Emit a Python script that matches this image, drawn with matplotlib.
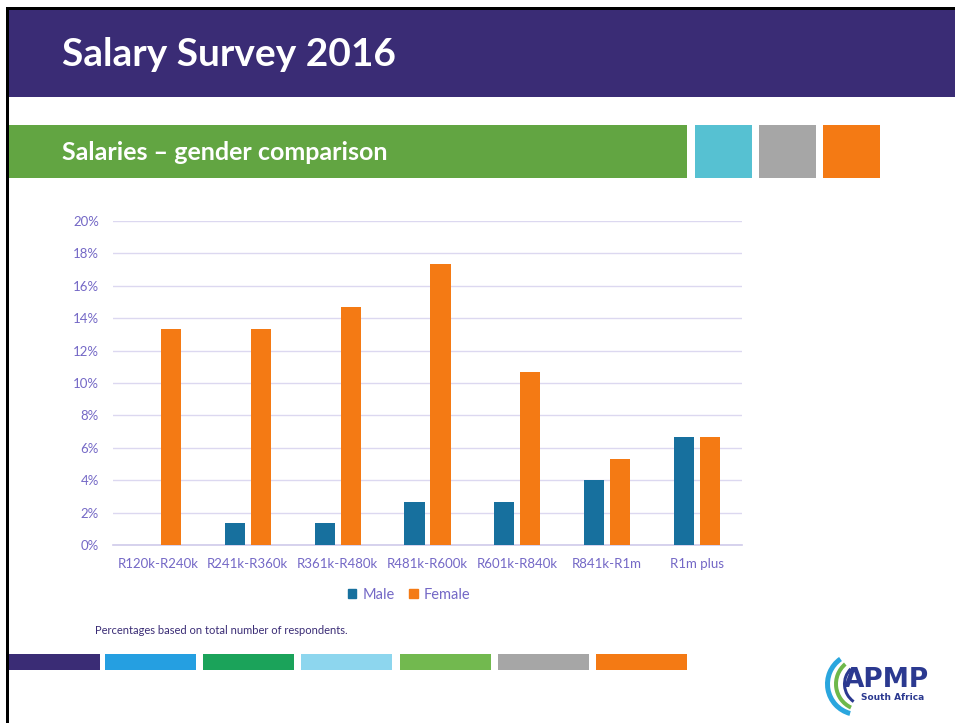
import matplotlib
matplotlib.use("Agg")
import matplotlib.pyplot as plt
import numpy as np
from matplotlib.patches import Rectangle, Wedge, Patch

W, H = 955, 723

categories = ["R120k-R240k", "R241k-R360k", "R361k-R480k", "R481k-R600k",
              "R601k-R840k", "R841k-R1m", "R1m plus"]
male = [0.0, 1.333, 1.333, 2.667, 2.667, 4.0, 6.667]
female = [13.333, 13.333, 14.667, 17.333, 10.667, 5.333, 6.667]
yticks = [0, 2, 4, 6, 8, 10, 12, 14, 16, 18, 20]
ytick_labels = [f"{v}%" for v in yticks]

title = "Salary Survey 2016"
subtitle = "Salaries \u2013 gender comparison"
footnote = "Percentages based on total number of respondents."

PURPLE = "#3A2C75"
GREEN = "#62A542"
MALE_C = "#17709E"
FEMALE_C = "#F47A14"
TICK_C = "#7468C6"
GRID_C = "#DCD8F0"
strip_colors = ["#3A2C75", "#259FE1", "#1BA35A", "#8DD6EE", "#72B94F", "#A6A6A6", "#F47A14"]

plt.rcParams['font.family'] = ['Lato', 'DejaVu Sans']

fig = plt.figure(figsize=(W / 100, H / 100), dpi=100)
fig.patch.set_facecolor("white")


def rect_px(x0, y0, x1, y1):
    return [x0 / W, 1 - y1 / H, (x1 - x0) / W, (y1 - y0) / H]


# Decoration axes (pixel coordinates)
bg = fig.add_axes([0, 0, 1, 1])
bg.set_xlim(0, W)
bg.set_ylim(H, 0)
bg.axis("off")

# black frame lines
bg.add_patch(Rectangle((6, 7), W - 6, 3, color="black", lw=0))
bg.add_patch(Rectangle((6, 7), 3, H - 7, color="black", lw=0))
# purple header
bg.add_patch(Rectangle((9, 10), W - 9, 87, color=PURPLE, lw=0))
bg.text(62, 54, title, color="white", fontsize=28, fontweight="bold",
        va="center", ha="left")
# green sub-header and squares
bg.add_patch(Rectangle((9, 125), 678, 53, color=GREEN, lw=0))
bg.text(62, 152, subtitle, color="white", fontsize=18, fontweight="bold",
        va="center", ha="left")
for x0, c in zip([695, 759, 823], ["#56C1D2", "#A6A6A6", "#F47A14"]):
    bg.add_patch(Rectangle((x0, 125), 57, 53, color=c, lw=0))

# footnote
bg.text(95, 630, footnote, color=PURPLE, fontsize=8, va="center", ha="left")

# bottom colour strip
strip_x = [9, 105, 203, 301, 400, 498, 596]
for x0, c in zip(strip_x, strip_colors):
    bg.add_patch(Rectangle((x0, 654), 91, 16, color=c, lw=0))

# logo (approximation)
bg.add_patch(Wedge((858, 684), 33, 105, 235, width=5, color="#2AA6DE", lw=0))
bg.add_patch(Wedge((862, 684), 28, 115, 230, width=4, color="#6DB84B", lw=0))
bg.add_patch(Wedge((866, 684), 23, 125, 225, width=3, color="#2B3990", lw=0))
bg.text(886, 680, "APMP", color="#2B3990", fontsize=19, fontweight="heavy",
        va="center", ha="center", family="Liberation Sans Narrow")
bg.text(893, 698, "South Africa", color="#2B3990", fontsize=6.5, fontweight="heavy",
        va="center", ha="center", family="Liberation Sans Narrow")

# Chart axes
ax = fig.add_axes(rect_px(113, 221, 742, 545))
x = np.arange(len(categories))
bw = 0.225
off = 0.145
ax.bar(x - off, male, width=bw, color=MALE_C, zorder=3, label="Male")
ax.bar(x + off, female, width=bw, color=FEMALE_C, zorder=3, label="Female")
ax.set_xlim(-0.5, len(categories) - 0.5)
ax.set_ylim(0, 20)
ax.set_yticks(yticks)
ax.set_yticklabels(ytick_labels)
ax.set_xticks(x)
ax.set_xticklabels(categories)
ax.tick_params(axis="both", length=0, colors=TICK_C, labelsize=9.5)
ax.tick_params(axis="y", pad=10)
ax.tick_params(axis="x", pad=9)
ax.grid(axis="y", color=GRID_C, lw=1, zorder=0)
for s in ["top", "right", "left"]:
    ax.spines[s].set_visible(False)
ax.spines["bottom"].set_color("#D0CBEA")
ax.spines["bottom"].set_linewidth(1.2)
ax.set_facecolor("none")

handles = [Patch(color=MALE_C, label="Male"), Patch(color=FEMALE_C, label="Female")]
leg = fig.legend(handles=handles, loc="center", bbox_to_anchor=(409 / W, 1 - 595 / H),
                 ncol=2, frameon=False, handlelength=0.6, handleheight=0.6,
                 handletextpad=0.4, columnspacing=1.0, fontsize=10.5)
for t in leg.get_texts():
    t.set_color(TICK_C)

fig.savefig("out.png", dpi=100, facecolor="white")
